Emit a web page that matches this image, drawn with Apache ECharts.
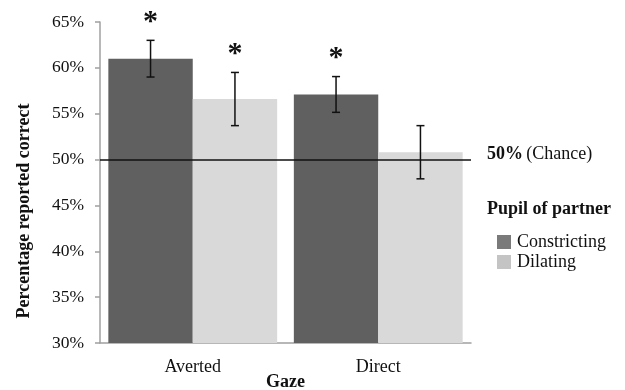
<!DOCTYPE html>
<html>
<head>
<meta charset="utf-8">
<script src="https://cdn.jsdelivr.net/npm/echarts@6/dist/echarts.min.js"></script>
<style>html,body{margin:0;padding:0;background:#fff}#c{width:625px;height:390px}</style>
</head>
<body>
<div id="c"></div>
<script>
const categories = ['Averted', 'Direct'];
const constricting = [61.0, 57.1];
const dilating = [56.6, 50.8];
const constrictingErr = [2.0, 1.95];
const dilatingErr = [2.9, 2.9];
const constrictingSig = [1, 1];
const dilatingSig = [1, 0];
const yTicks = { min: 30, max: 65, interval: 5 };
const chanceValue = 50;

const FONT = '"Liberation Serif", "Times New Roman", serif';
const GAP = 0.09;

function errSeries(vals, errs, sig, side) {
  return {
    type: 'custom',
    z: 5,
    data: vals.map((v, i) => [i, v, errs[i], sig[i]]),
    encode: { x: 0, y: 1 },
    renderItem: function (params, api) {
      const idx = api.value(0), m = api.value(1), e = api.value(2), s = api.value(3);
      const catW = api.size([1, 0])[0];
      const barW = catW * (1 - GAP) / 2;
      const top = api.coord([idx, m + e]);
      const bot = api.coord([idx, m - e]);
      const x = top[0] + side * barW / 2;
      const cap = 4;
      const st = { stroke: '#111', lineWidth: 1.5 };
      const children = [
        { type: 'line', shape: { x1: x, y1: top[1], x2: x, y2: bot[1] }, style: st },
        { type: 'line', shape: { x1: x - cap, y1: top[1], x2: x + cap, y2: top[1] }, style: st },
        { type: 'line', shape: { x1: x - cap, y1: bot[1], x2: x + cap, y2: bot[1] }, style: st }
      ];
      if (s) {
        children.push({
          type: 'text',
          style: { text: '*', x: x, y: top[1] - 18, align: 'center', verticalAlign: 'middle',
                   font: 'bold 30px ' + FONT, fill: '#111' }
        });
      }
      return { type: 'group', children: children };
    }
  };
}

const chart = echarts.init(document.getElementById('c'));
chart.setOption({
  animation: false,
  backgroundColor: '#fff',
  grid: { left: 100, right: 154, top: 22, bottom: 47, containLabel: false, outerBoundsMode: 'none' },
  xAxis: {
    type: 'category',
    data: categories,
    axisLine: { lineStyle: { color: '#a0a0a0', width: 1.5 } },
    axisTick: { show: false },
    axisLabel: { color: '#111', fontFamily: FONT, fontSize: 18, margin: 15 }
  },
  yAxis: {
    type: 'value',
    min: yTicks.min, max: yTicks.max, interval: yTicks.interval,
    axisLine: { show: true, lineStyle: { color: '#a0a0a0', width: 1.5 } },
    axisTick: { show: true, length: 5, lineStyle: { color: '#a0a0a0', width: 1.5 } },
    splitLine: { show: false },
    axisLabel: { formatter: '{value}%', color: '#111', fontFamily: FONT, fontSize: 17.5, margin: 16 }
  },
  legend: {
    orient: 'vertical',
    left: 492, top: 228,
    itemWidth: 14, itemHeight: 14, itemGap: 2,
    icon: 'rect',
    textStyle: { color: '#111', fontFamily: FONT, fontSize: 18, lineHeight: 18, padding: [0, 0, 0, 1] },
    data: [
      { name: 'Constricting', itemStyle: { color: '#7a7a7a' } },
      { name: 'Dilating', itemStyle: { color: '#c4c4c4' } }
    ]
  },
  graphic: [
    { type: 'text', left: 487, top: 145,
      style: { rich: { b: { fontFamily: FONT, fontSize: 18, fontWeight: 'bold', fill: '#111' },
                       n: { fontFamily: FONT, fontSize: 18, fill: '#111' } },
               text: '{b|50%} {n|(Chance)}' } },
    { type: 'text', left: 487, top: 200,
      style: { text: 'Pupil of partner', font: 'bold 18px ' + FONT, fill: '#111' } },
    { type: 'text', x: 285.5, y: 382,
      style: { text: 'Gaze', font: 'bold 18px ' + FONT, fill: '#111',
               align: 'center', verticalAlign: 'middle' } },
    { type: 'text', x: 24, y: 211, rotation: Math.PI / 2,
      style: { text: 'Percentage reported correct', font: 'bold 18px ' + FONT, fill: '#111',
               align: 'center', verticalAlign: 'middle' } }
  ],
  series: [
    {
      name: 'Constricting', type: 'bar', data: constricting,
      barGap: '0%', barCategoryGap: (GAP * 100) + '%',
      itemStyle: { color: '#606060' },
      markLine: {
        silent: true, symbol: 'none', label: { show: false },
        lineStyle: { color: '#111', width: 1.5, type: 'solid' },
        data: [{ yAxis: chanceValue }],
        z: 10
      }
    },
    {
      name: 'Dilating', type: 'bar', data: dilating,
      itemStyle: { color: '#d9d9d9' }
    },
    errSeries(constricting, constrictingErr, constrictingSig, -1),
    errSeries(dilating, dilatingErr, dilatingSig, 1)
  ]
});
</script>
</body>
</html>
